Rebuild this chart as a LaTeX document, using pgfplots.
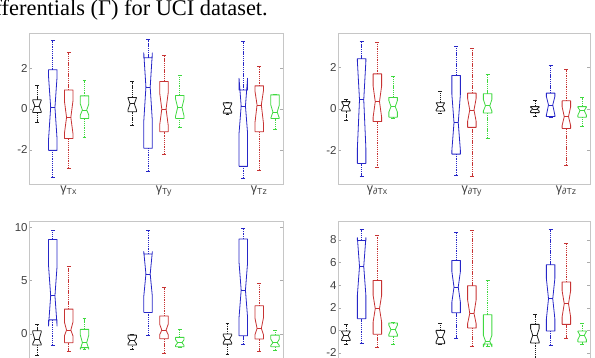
\documentclass[border=0pt]{standalone}
\usepackage{pgfplots}
\pgfplotsset{compat=1.18}
\usepackage{fontspec}
\setmainfont{Liberation Serif}
\newfontfamily\arial{Liberation Sans}
\definecolor{cK}{rgb}{0.12,0.12,0.12}
\definecolor{cB}{rgb}{0.15,0.15,0.78}
\definecolor{cR}{rgb}{0.78,0.2,0.2}
\definecolor{cG}{rgb}{0.25,0.85,0.25}
\tikzset{wsk/.style={line width=0.65pt, dash pattern=on 1.3pt off 0.9pt},
         bx/.style={line width=0.8pt}}
\pgfplotsset{mybox/.style={scale only axis,
  axis line style={gray!45}, tick style={gray!65, line width=0.5pt},
  tick align=inside, major tick length=3pt,
  xmin=0.5, xmax=16.5, xtick={3,9,15}, x tick style={draw=none},
  /pgf/number format/assume math mode=true,
  yticklabel style={font=\arial\fontsize{11.5}{12}\selectfont, text=black!75, inner xsep=1.2pt},
  xticklabel style={font=\arial\fontsize{12.5}{13}\selectfont, text=black!75, inner ysep=1.5pt},
  clip=false}}
% \nbox{color}{x}{whisker low}{q1}{notch low}{median}{notch high}{q3}{whisker high}
\newcommand\nbox[9]{%
 \pgfmathsetmacro\bxa{#2-0.27}%
 \pgfmathsetmacro\bxb{#2+0.27}%
 \pgfmathsetmacro\bxc{#2-0.135}%
 \pgfmathsetmacro\bxd{#2+0.135}%
 \pgfmathsetmacro\bxe{#2-0.12}%
 \pgfmathsetmacro\bxf{#2+0.12}%
 \edef\bxtmp{%
 \noexpand\addplot[#1,wsk] coordinates {(#2,#8)(#2,#9)};%
 \noexpand\addplot[#1,wsk] coordinates {(#2,#3)(#2,#4)};%
 \noexpand\addplot[#1,bx] coordinates {(\bxe,#9)(\bxf,#9)};%
 \noexpand\addplot[#1,bx] coordinates {(\bxe,#3)(\bxf,#3)};%
 \noexpand\addplot[#1,bx,line join=round] coordinates {(\bxa,#4)(\bxa,#5)(\bxc,#6)(\bxa,#7)(\bxa,#8)(\bxb,#8)(\bxb,#7)(\bxd,#6)(\bxb,#5)(\bxb,#4)(\bxa,#4)};%
 \noexpand\addplot[#1,bx] coordinates {(\bxc,#6)(\bxd,#6)};%
 }\bxtmp}
\begin{document}
\begin{tikzpicture}[x=1pt,y=1pt]
\useasboundingbox (0,0) rectangle (595,358);
\clip (0,0) rectangle (595,358);
\node[anchor=base east, font=\fontsize{22.4}{24}\selectfont, inner sep=0pt] at (268,342) {fferentials (Γ) for UCI dataset.};

% top left
\begin{axis}[mybox, at={(29pt,174pt)}, anchor=south west, width=254pt, height=151pt,
  ymin=-3.66, ymax=3.71, ytick={-2,0,2},
  xticklabels={γ\textsubscript{Tx}, γ\textsubscript{Ty}, γ\textsubscript{Tz}}]
\nbox{cK}{1}{-0.67}{-0.17}{-0.12}{0.15}{0.42}{0.45}{1.17}
\nbox{cB}{2}{-3.33}{-2.02}{-1.5}{0.08}{1.6}{1.92}{3.34}
\nbox{cR}{3}{-2.89}{-1.44}{-1.2}{-0.41}{0.4}{0.93}{2.74}
\nbox{cG}{4}{-1.39}{-0.46}{-0.3}{-0.05}{0.25}{0.64}{1.39}
\nbox{cK}{7}{-0.79}{-0.13}{-0.05}{0.25}{0.55}{0.56}{1.34}
\nbox{cB}{8}{-3.03}{-1.92}{-0.6}{1.07}{2.74}{2.5}{3.39}
\nbox{cR}{9}{-2.21}{-1.11}{-0.8}{0.0}{0.8}{1.34}{2.61}
\nbox{cG}{10}{-0.9}{-0.46}{-0.35}{0.08}{0.5}{0.66}{1.66}
\nbox{cK}{13}{-0.28}{-0.2}{-0.15}{0.05}{0.25}{0.3}{0.32}
\nbox{cB}{14}{-3.38}{-2.8}{-1.2}{0.15}{1.5}{0.93}{3.31}
\nbox{cR}{15}{-3.0}{-1.11}{-0.7}{0.2}{0.9}{1.13}{2.08}
\nbox{cG}{16}{-1.0}{-0.46}{-0.45}{-0.15}{0.2}{0.69}{0.72}
\end{axis}

% top right
\begin{axis}[mybox, at={(338pt,174pt)}, anchor=south west, width=252pt, height=151pt,
  ymin=-3.62, ymax=3.66, ytick={-2,0,2},
  xticklabels={γ\textsubscript{∂Tx}, γ\textsubscript{∂Ty}, γ\textsubscript{∂Tz}}]
\nbox{cK}{1}{-0.53}{-0.1}{-0.05}{0.15}{0.35}{0.35}{0.44}
\nbox{cB}{2}{-3.27}{-2.63}{-1.9}{0.44}{2.3}{2.42}{3.26}
\nbox{cR}{3}{-2.84}{-0.61}{-0.4}{0.35}{1.1}{1.69}{3.21}
\nbox{cG}{4}{-0.45}{-0.4}{-0.15}{0.11}{0.4}{0.55}{1.56}
\nbox{cK}{7}{-0.24}{-0.1}{-0.05}{0.11}{0.3}{0.3}{0.84}
\nbox{cB}{8}{-3.19}{-2.18}{-2.0}{-0.66}{0.7}{1.61}{3.02}
\nbox{cR}{9}{-3.27}{-0.89}{-0.6}{-0.05}{0.5}{0.76}{2.94}
\nbox{cG}{10}{-1.42}{-0.2}{-0.1}{0.15}{0.45}{0.73}{1.65}
\nbox{cK}{13}{-0.37}{-0.18}{-0.1}{0.0}{0.08}{0.11}{0.4}
\nbox{cB}{14}{-0.4}{-0.37}{-0.3}{0.19}{0.6}{0.76}{2.08}
\nbox{cR}{15}{-2.71}{-0.94}{-0.8}{-0.37}{0.1}{0.39}{1.89}
\nbox{cG}{16}{-0.85}{-0.4}{-0.3}{-0.08}{0.08}{0.11}{0.55}
\end{axis}

% bottom left
\begin{axis}[mybox, at={(29pt,137pt)}, anchor=north west, width=254pt, height=140.5pt,
  ymin=-2.6, ymax=10.57, ytick={0,5,10}, xticklabels={}]
\nbox{cK}{1}{-2.0}{-1.06}{-0.95}{-0.53}{0.15}{0.28}{0.9}
\nbox{cB}{2}{-1.1}{1.3}{0.72}{3.56}{6.4}{8.84}{9.65}
\nbox{cR}{3}{-1.69}{-0.84}{-0.2}{0.34}{1.1}{2.31}{6.34}
\nbox{cG}{4}{-1.5}{-1.3}{-1.45}{-0.84}{-0.1}{0.41}{1.41}
\nbox{cK}{7}{-1.47}{-1.06}{-0.95}{-0.66}{-0.35}{-0.13}{-0.06}
\nbox{cB}{8}{-0.16}{2.0}{3.5}{5.6}{7.7}{7.47}{9.65}
\nbox{cR}{9}{-1.84}{-0.47}{-0.1}{0.34}{0.9}{1.66}{4.31}
\nbox{cG}{10}{-1.3}{-1.22}{-1.1}{-0.84}{-0.55}{-0.34}{0.41}
\nbox{cK}{13}{-1.94}{-0.97}{-0.85}{-0.5}{-0.15}{-0.03}{0.97}
\nbox{cB}{14}{-0.97}{-0.19}{1.5}{4.09}{6.7}{8.88}{9.84}
\nbox{cR}{15}{-1.69}{-0.5}{-0.1}{0.5}{1.5}{2.62}{4.72}
\nbox{cG}{16}{-1.53}{-1.22}{-1.1}{-0.84}{-0.5}{-0.13}{0.34}
\end{axis}

% bottom right
\begin{axis}[mybox, at={(338pt,137pt)}, anchor=north west, width=252pt, height=141pt,
  ymin=-2.8, ymax=9.68, ytick={-2,0,2,4,6,8}, xticklabels={}]
\nbox{cK}{1}{-1.24}{-0.9}{-0.8}{-0.44}{-0.1}{-0.06}{0.53}
\nbox{cB}{2}{-1.18}{1.03}{3.1}{5.66}{8.2}{7.96}{8.91}
\nbox{cR}{3}{-1.5}{-0.35}{0.74}{1.92}{3.1}{4.42}{8.4}
\nbox{cG}{4}{-1.24}{-0.53}{-0.35}{0.06}{0.45}{0.65}{0.68}
\nbox{cK}{7}{-1.2}{-1.18}{-1.0}{-0.59}{-0.15}{0.0}{0.65}
\nbox{cB}{8}{-0.74}{1.56}{2.5}{3.83}{5.2}{6.19}{8.64}
\nbox{cR}{9}{-1.42}{0.21}{0.6}{1.5}{2.7}{3.95}{8.85}
\nbox{cG}{10}{-1.45}{-1.2}{-1.45}{-0.95}{-0.45}{1.39}{4.42}
\nbox{cK}{13}{-3.0}{-1.12}{-1.0}{-0.44}{0.15}{0.53}{1.39}
\nbox{cB}{14}{-1.33}{-0.06}{1.0}{2.8}{4.6}{5.81}{8.97}
\nbox{cR}{15}{-0.74}{0.53}{1.2}{2.36}{3.5}{4.28}{7.73}
\nbox{cG}{16}{-1.24}{-1.03}{-0.8}{-0.44}{-0.1}{-0.06}{0.65}
\end{axis}
\end{tikzpicture}
\end{document}
